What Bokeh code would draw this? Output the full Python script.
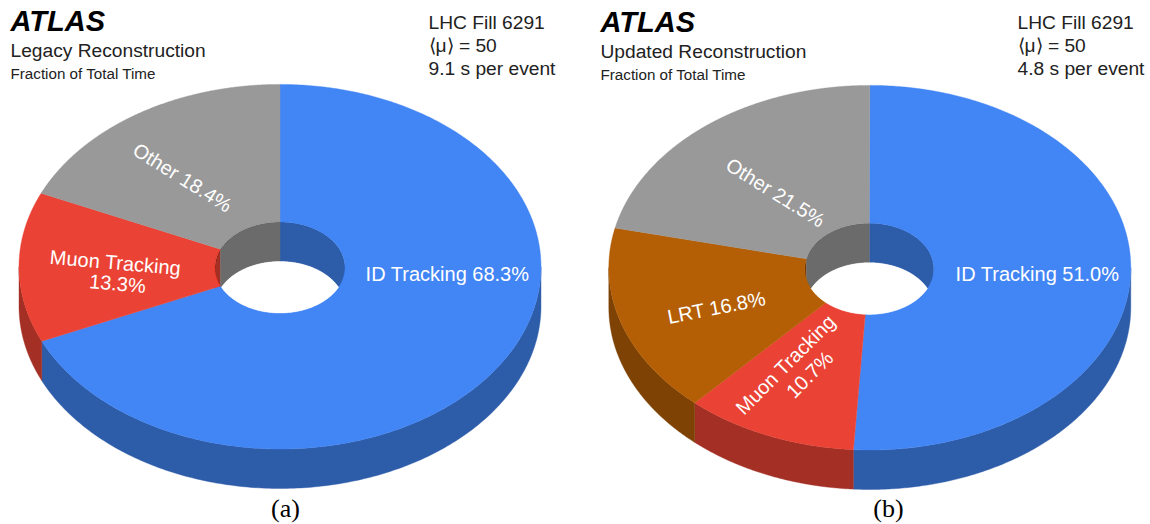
import numpy as np
from bokeh.plotting import figure
from bokeh.models import ColumnDataSource, Range1d
from bokeh.core.properties import value
from bokeh.embed import file_html
from bokeh.resources import INLINE

# --- data
categories_a = ["ID Tracking", "Muon Tracking", "Other"]
values_a = [68.3, 13.3, 18.4]
categories_b = ["ID Tracking", "Muon Tracking", "LRT", "Other"]
values_b = [51.0, 10.7, 16.8, 21.5]
top_colors = {"ID Tracking": "#4285F4", "Muon Tracking": "#EA4335", "LRT": "#B45F06", "Other": "#999999"}
side_colors = {"ID Tracking": "#2D5CA9", "Muon Tracking": "#A32F25", "LRT": "#7E4204", "Other": "#6B6B6B"}

W, H = 1150, 524
p = figure(width=W, height=H, output_backend="svg", toolbar_location=None,
           x_range=Range1d(0, W), y_range=Range1d(H, 0),
           min_border=0, outline_line_color=None, background_fill_color="white")
p.xaxis.visible = False
p.yaxis.visible = False
p.grid.visible = False


def pt(cx, cy, rx, ry, deg):
    a = np.radians(deg)
    return cx + rx * np.sin(a), cy - ry * np.cos(a)


def draw_pie(cats, vals, cx, cy, rx, ry, hcx, hcy, hrx, hry, depth):
    edges = np.concatenate([[0], np.cumsum(vals)]) / sum(vals) * 360
    slices = list(zip(cats, edges[:-1], edges[1:]))

    def walls(ccx, ccy, crx, cry, windows):
        xs, ys, cols = [], [], []
        for c, a0, a1 in slices:
            for w0, w1 in windows:
                lo, hi = max(a0, w0), min(a1, w1)
                if hi <= lo:
                    continue
                x, y = pt(ccx, ccy, crx, cry, np.linspace(lo, hi, 200))
                xs.append(np.r_[x, x[::-1]])
                ys.append(np.r_[y, (y + depth)[::-1]])
                cols.append(side_colors[c])
        p.patches(xs, ys, fill_color=cols, line_color=cols, line_width=0.4)

    # outer wall: front half; inner wall: back half
    walls(cx, cy, rx, ry, [(90, 270)])
    walls(hcx, hcy, hrx, hry, [(0, 90), (270, 360)])
    # top face
    xs, ys, cols = [], [], []
    for c, a0, a1 in slices:
        t = np.linspace(a0, a1, 400)
        x, y = pt(cx, cy, rx, ry, t)
        hx, hy = pt(hcx, hcy, hrx, hry, t[::-1])
        xs.append(np.r_[x, hx])
        ys.append(np.r_[y, hy])
        cols.append(top_colors[c])
    p.patches(xs, ys, fill_color=cols, line_color=cols, line_width=0.4)
    # see-through part of the hole
    half = np.degrees(np.arccos(depth / 2 / hry))
    lx, ly = pt(hcx, hcy, hrx, hry, np.linspace(180 - half, 180 + half, 200))
    ux, uy = pt(hcx, hcy + depth, hrx, hry, np.linspace(360 - half, 360 + half, 200))
    p.patch(np.r_[lx, ux], np.r_[ly, uy], fill_color="white", line_color="white", line_width=0.4)


draw_pie(categories_a, values_a, 279.5, 266.2, 261, 182.3, 279.5, 267, 65, 45.5, 39.5)
draw_pie(categories_b, values_b, 869.3, 267.2, 261, 182.3, 868.8, 268.3, 64.5, 45.6, 39.5)

sans = value("Liberation Sans")
serif = value("Liberation Serif")


def labels(rows, font=sans, style="normal", align="left", baseline="alphabetic"):
    src = ColumnDataSource(dict(x=[r[0] for r in rows], y=[r[1] for r in rows], t=[r[2] for r in rows],
                                s=[r[3] for r in rows], c=[r[4] for r in rows],
                                a=[np.radians(r[5]) for r in rows]))
    p.text("x", "y", text="t", text_font_size="s", text_color="c", angle="a", source=src, text_font=font,
           text_font_style=style, text_align=align, text_baseline=baseline)


labels([(10, 20, "ATLAS", "29px", "#000000", 0), (600, 21, "ATLAS", "29px", "#000000", 0)], style="bold italic")
labels([
    (10, 50, "Legacy Reconstruction", "19.2px", "#222222", 0),
    (10, 73, "Fraction of Total Time", "15.2px", "#222222", 0),
    (428, 22, "LHC Fill 6291", "19.2px", "#222222", 0),
    (428, 45, "\u27e8\u03bc\u27e9 = 50", "19.2px", "#222222", 0),
    (428, 68, "9.1 s per event", "19.2px", "#222222", 0),
    (600, 51, "Updated Reconstruction", "19.2px", "#222222", 0),
    (600, 74, "Fraction of Total Time", "15.2px", "#222222", 0),
    (1017, 22, "LHC Fill 6291", "19.2px", "#222222", 0),
    (1017, 45, "\u27e8\u03bc\u27e9 = 50", "19.2px", "#222222", 0),
    (1017, 68, "4.8 s per event", "19.2px", "#222222", 0),
])
labels([
    (182, 177, "Other 18.4%", "20px", "#FFFFFF", -32),
    (115, 262, "Muon Tracking", "20px", "#FFFFFF", -5),
    (117, 283, "13.3%", "20px", "#FFFFFF", -5),
    (447, 273, "ID Tracking 68.3%", "20px", "#FFFFFF", 0),
    (775, 192, "Other 21.5%", "20px", "#FFFFFF", -32),
    (716, 307, "LRT 16.8%", "20px", "#FFFFFF", 11),
    (785, 364, "Muon Tracking", "20px", "#FFFFFF", 45),
    (809, 374, "10.7%", "20px", "#FFFFFF", 45),
    (1037, 273, "ID Tracking 51.0%", "20px", "#FFFFFF", 0),
], align="center", baseline="middle")
labels([(285, 508, "(a)", "26px", "#000000", 0), (888, 508, "(b)", "26px", "#000000", 0)],
       font=serif, align="center", baseline="middle")

open("out.html", "w").write(file_html(p, INLINE))
